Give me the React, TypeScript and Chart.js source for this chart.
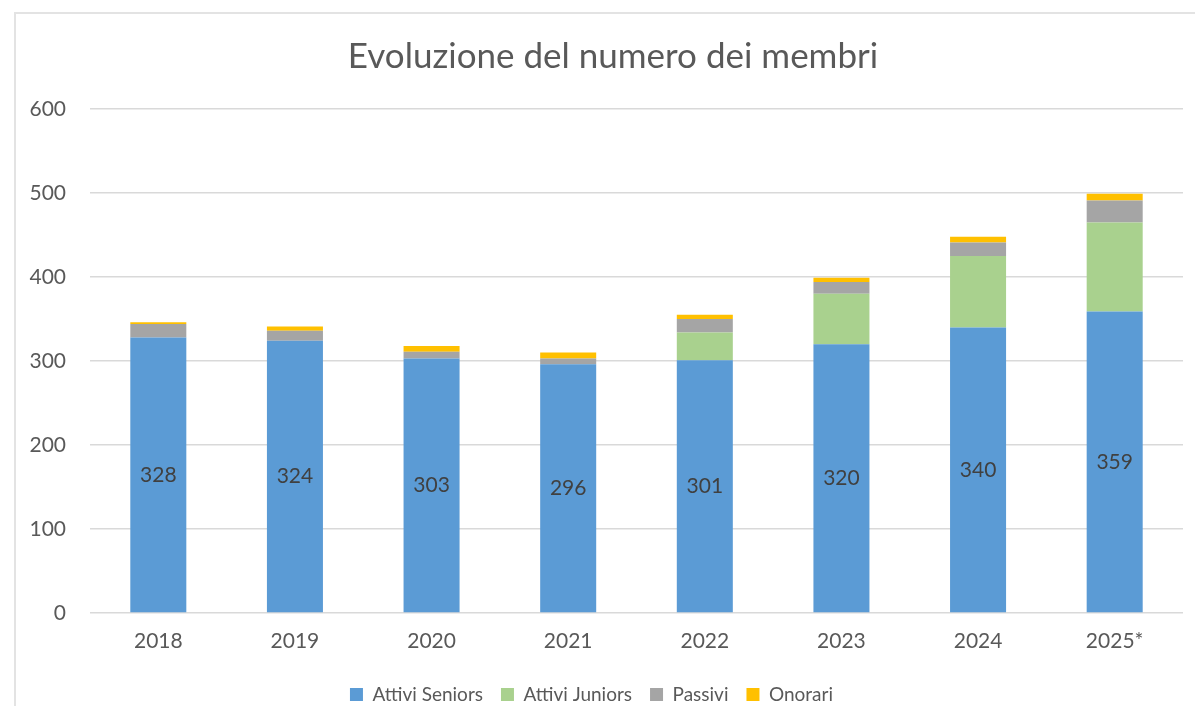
import React, { useEffect, useRef } from "react";
import { Chart, registerables } from "chart.js";

Chart.register(...registerables);

const years = ["2018", "2019", "2020", "2021", "2022", "2023", "2024", "2025*"];
const attiviSeniors = [328, 324, 303, 296, 301, 320, 340, 359];
const attiviJuniors = [0, 0, 0, 0, 33, 60, 85, 106];
const passivi = [16, 12, 8, 7, 16, 14, 16, 26];
const onorari = [2, 5, 7, 7, 5, 5, 7, 8];
const yTicks = [0, 100, 200, 300, 400, 500, 600];
const TITLE = "Evoluzione del numero dei membri";

const FONT = "Lato, 'Liberation Sans', sans-serif";
const TEXT = "#595959";

const seniorLabels = {
  id: "seniorLabels",
  afterDatasetsDraw(chart: any) {
    const ctx = chart.ctx;
    const meta = chart.getDatasetMeta(0);
    ctx.save();
    ctx.font = `21px ${FONT}`;
    ctx.fillStyle = "#404040";
    ctx.textAlign = "center";
    ctx.textBaseline = "middle";
    meta.data.forEach((el: any, i: number) => {
      const v = attiviSeniors[i];
      ctx.fillText(String(v), el.x, (el.y + el.base) / 2);
    });
    ctx.restore();
  },
};

const shiftedTitle = {
  id: "shiftedTitle",
  afterDraw(chart: any) {
    const t = chart.titleBlock;
    if (!t) return;
    const ctx = chart.ctx;
    ctx.save();
    ctx.font = `35px ${FONT}`;
    ctx.fillStyle = TEXT;
    ctx.textAlign = "center";
    ctx.textBaseline = "middle";
    ctx.fillText(TITLE, 613, t.top + 21);
    ctx.restore();
  },
};

export default function App() {
  const ref = useRef<HTMLCanvasElement | null>(null);
  useEffect(() => {
    if (!ref.current) return;
    const common = { categoryPercentage: 1, barPercentage: 0.41, borderWidth: 0 };
    const chart = new Chart(ref.current, {
      type: "bar",
      data: {
        labels: years,
        datasets: [
          { label: "Attivi Seniors", data: attiviSeniors, backgroundColor: "#5B9BD5", ...common },
          { label: "Attivi Juniors", data: attiviJuniors, backgroundColor: "#A9D18E", ...common },
          { label: "Passivi", data: passivi, backgroundColor: "#A5A5A5", ...common },
          { label: "Onorari", data: onorari, backgroundColor: "#FFC000", ...common },
        ],
      },
      options: {
        responsive: false,
        animation: false,
        layout: { padding: { top: 36, right: 12, bottom: -8, left: 0 } },
        plugins: {
          title: {
            display: true,
            text: TITLE,
            color: "rgba(0,0,0,0)",
            font: { family: FONT, size: 35, weight: "normal" },
            padding: { top: 0, bottom: 31 },
          },
          legend: {
            position: "bottom",
            labels: {
              color: TEXT,
              font: { family: FONT, size: 19 },
              boxWidth: 13,
              boxHeight: 13,
              padding: 18,
            },
          },
          tooltip: { enabled: false },
        },
        scales: {
          x: {
            stacked: true,
            grid: { display: false },
            border: { display: false },
            afterFit: (s: any) => {
              s.height = 54;
            },
            ticks: { color: TEXT, font: { family: FONT, size: 21 }, padding: 8 },
          },
          y: {
            stacked: true,
            min: 0,
            max: 600,
            afterBuildTicks: (s: any) => {
              s.ticks = yTicks.map((v) => ({ value: v }));
            },
            afterFit: (s: any) => {
              s.width = 90;
            },
            grid: { color: "#d9d9d9", lineWidth: 1.5, drawTicks: false },
            border: { display: false },
            ticks: { color: TEXT, font: { family: FONT, size: 21 }, padding: 24 },
          },
        },
      },
      plugins: [seniorLabels, shiftedTitle],
    });
    return () => chart.destroy();
  }, []);
  return (
    <div style={{ position: "absolute", left: 0, top: 0, width: 1195, height: 706, background: "#fff" }}>
      <div
        style={{
          position: "absolute",
          left: 14,
          top: 12,
          right: 0,
          bottom: 0,
          borderLeft: "2px solid #e3e3e3",
          borderTop: "2px solid #e3e3e3",
        }}
      />
      <canvas ref={ref} width={1195} height={706} style={{ position: "absolute", left: 0, top: 0 }} />
    </div>
  );
}
